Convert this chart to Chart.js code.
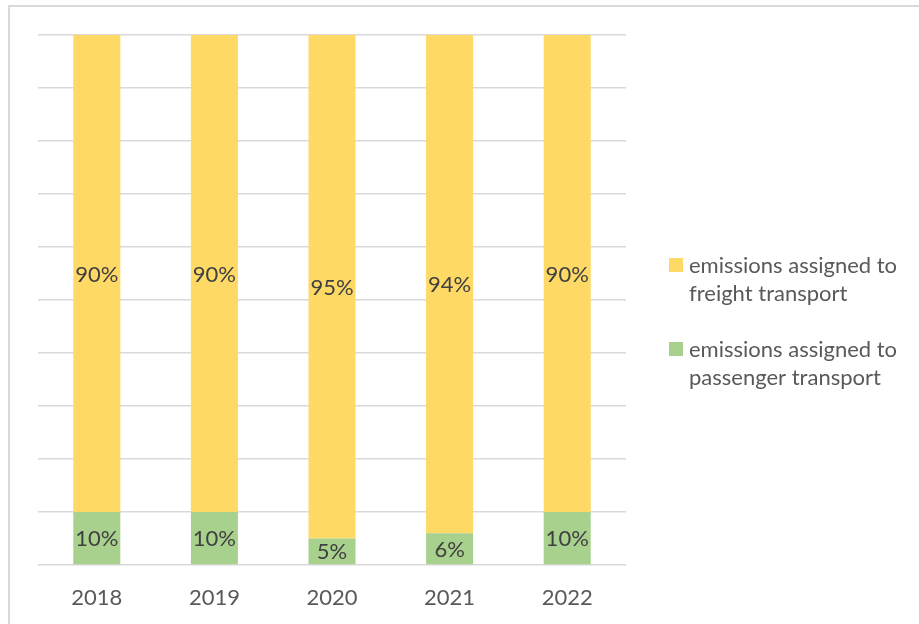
<!DOCTYPE html>
<html>
<head>
<meta charset="utf-8">
<script src="https://cdn.jsdelivr.net/npm/chart.js@4.4.0/dist/chart.umd.min.js"></script>
<style>
  body { margin: 0; background: #fff; }
  #wrap { position: relative; width: 919px; height: 624px; overflow: hidden; }
  #frame { position: absolute; left: 8px; top: 5px; right: -10px; bottom: -10px; border: 2px solid #d9d9d9; }
  canvas { position: absolute; left: 0; top: 0; }
</style>
</head>
<body>
<div id="wrap">
  <div id="frame"></div>
  <canvas id="share" width="919" height="624"></canvas>
</div>
<script>
// Share of emissions per year (%)
var years = ['2018', '2019', '2020', '2021', '2022'];
var passengerShare = [10, 10, 5, 6, 10];
var freightShare = [90, 90, 95, 94, 90];
var passengerName = ['emissions assigned to', 'passenger transport'];
var freightName = ['emissions assigned to', 'freight transport'];

var yellow = '#ffd966';
var green = '#a9d18e';
var textGrey = '#595959';
var fontFamily = 'Lato, "Open Sans", sans-serif';

// writes the percentage in the middle of every bar segment
var segmentLabels = {
  id: 'segmentLabels',
  afterDatasetsDraw(chart) {
    var ctx = chart.ctx;
    ctx.save();
    ctx.font = '22px ' + fontFamily;
    ctx.fillStyle = '#404040';
    ctx.textAlign = 'center';
    ctx.textBaseline = 'middle';
    chart.data.datasets.forEach((ds, i) => {
      chart.getDatasetMeta(i).data.forEach((bar, j) => {
        var p = bar.getCenterPoint();
        ctx.fillText(ds.data[j] + '%', p.x, p.y + 1);
      });
    });
    ctx.restore();
  }
};

// legend on the right, two lines per entry, freight first
var sideLegend = {
  id: 'sideLegend',
  afterDraw(chart) {
    var ctx = chart.ctx;
    var area = chart.chartArea;
    var left = area.right + 43;
    var top = (area.top + area.bottom) / 2 - 42;
    var items = chart.data.datasets.slice().reverse();
    ctx.save();
    ctx.font = '22px ' + fontFamily;
    ctx.textBaseline = 'alphabetic';
    items.forEach((ds, i) => {
      var y = top + i * 84;
      ctx.fillStyle = ds.backgroundColor;
      ctx.fillRect(left, y, 14, 14);
      ctx.fillStyle = textGrey;
      ds.label.forEach((line, k) => {
        ctx.fillText(line, left + 20, y + 15 + k * 27.5);
      });
    });
    ctx.restore();
  }
};

new Chart(document.getElementById('share'), {
  type: 'bar',
  data: {
    labels: years,
    datasets: [{
      label: passengerName,
      data: passengerShare,
      backgroundColor: green
    }, {
      label: freightName,
      data: freightShare,
      backgroundColor: yellow
    }]
  },
  options: {
    responsive: false,
    animation: false,
    layout: { padding: { left: 38, top: 35, right: 293, bottom: 0 } },
    datasets: { bar: { categoryPercentage: 1, barPercentage: 0.4 } },
    plugins: {
      legend: { display: false },
      tooltip: { enabled: false }
    },
    scales: {
      x: {
        stacked: true,
        grid: { display: false },
        border: { display: false },
        ticks: { color: textGrey, padding: 12, font: { family: fontFamily, size: 22 } },
        afterFit(scale) { scale.height = 59; }
      },
      y: {
        stacked: true,
        min: 0,
        max: 100,
        ticks: { display: false, stepSize: 10 },
        border: { display: false },
        grid: { color: '#d9d9d9', lineWidth: 1.5, drawTicks: false }
      }
    }
  },
  plugins: [segmentLabels, sideLegend]
});
</script>
</body>
</html>
